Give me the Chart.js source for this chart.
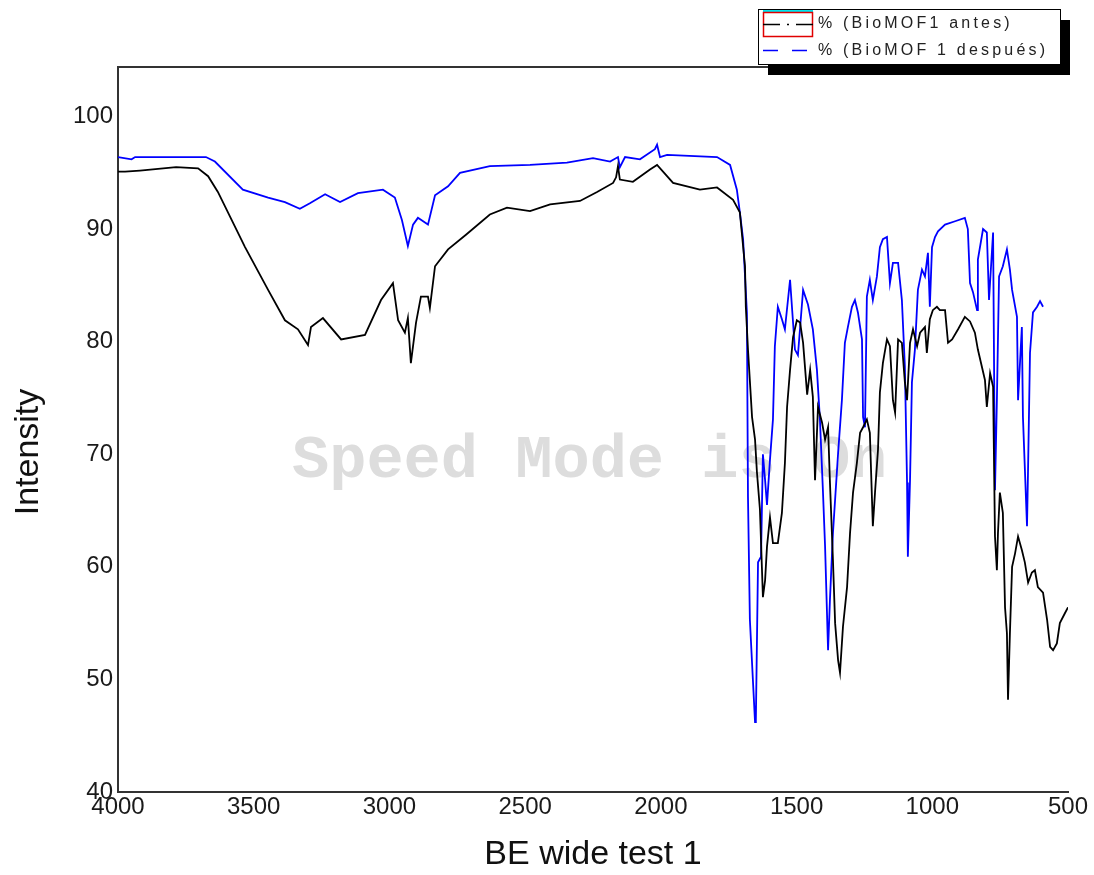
<!DOCTYPE html>
<html>
<head>
<meta charset="utf-8">
<script src="https://cdn.jsdelivr.net/npm/chart.js@4.4.1/dist/chart.umd.min.js"></script>
<style>
  html, body { margin: 0; padding: 0; background: #fff; }
  #wrap { width: 1094px; height: 875px; }
</style>
</head>
<body>
<div id="wrap"><canvas id="spec" width="1094" height="875"></canvas></div>
<script>
// IR transmittance, BioMOF 1 before and after (wavenumber in cm-1, %)
const beforeLabel = '% (BioMOF1 antes)';
const afterLabel = '% (BioMOF 1 después)';

const beforeWn = [4000, 3974, 3919, 3786, 3705, 3668, 3632, 3532, 3447, 3385, 3337, 3300, 3289, 3245, 3178, 3090,
  3031, 2987, 2968, 2943, 2932, 2921, 2902, 2884, 2858, 2851, 2832, 2784, 2718, 2630, 2567, 2482, 2408, 2298,
  2235, 2176, 2165, 2158, 2151, 2103, 2040, 2014, 1992, 1955, 1856, 1793, 1734, 1709, 1690, 1687, 1679, 1664,
  1653, 1646, 1635, 1624, 1616, 1609, 1598, 1587, 1569, 1554, 1543, 1535, 1524, 1513, 1499, 1487, 1476, 1461,
  1450, 1440, 1432, 1421, 1406, 1395, 1384, 1377, 1366, 1358, 1347, 1340, 1329, 1314, 1303, 1292, 1278, 1266,
  1255, 1241, 1230, 1219, 1211, 1200, 1193, 1182, 1167, 1156, 1145, 1137, 1126, 1112, 1101, 1093, 1082, 1071,
  1056, 1045, 1027, 1020, 1009, 998, 983, 972, 953, 942, 927, 905, 880, 861, 843, 832, 806, 799, 787, 776,
  769, 762, 758, 751, 740, 732, 725, 721, 714, 706, 695, 684, 670, 659, 647, 633, 622, 611, 592, 577, 566,
  555, 541, 530, 511, 500];
const beforePct = [95.1, 95.1, 95.2, 95.5, 95.4, 94.7, 93.3, 88.4, 84.6, 81.9, 81.1, 79.7, 81.3, 82.1, 80.2, 80.6,
  83.7, 85.2, 81.9, 80.8, 82.1, 78.1, 81.7, 84.0, 84.0, 83.0, 86.7, 88.2, 89.5, 91.3, 91.9, 91.6, 92.2, 92.5,
  93.3, 94.1, 94.6, 95.6, 94.4, 94.2, 95.3, 95.7, 95.1, 94.1, 93.5, 93.7, 92.6, 91.5, 86.7, 83.1, 79.3, 73.3,
  71.3, 68.4, 65.1, 57.3, 58.8, 61.8, 64.4, 62.1, 62.1, 64.8, 69.2, 74.2, 77.5, 80.4, 81.9, 81.7, 79.9, 75.3,
  77.5, 75.1, 67.7, 74.2, 72.8, 71.3, 72.4, 67.5, 60.6, 55.0, 51.7, 50.6, 54.7, 58.2, 63.0, 66.6, 69.2, 71.9,
  72.4, 73.1, 71.9, 63.6, 66.6, 70.4, 75.5, 78.1, 80.2, 79.6, 74.8, 73.7, 80.2, 79.9, 76.4, 74.8, 79.9, 81.1,
  79.6, 80.8, 81.3, 79.0, 82.0, 82.8, 83.1, 82.8, 82.8, 79.9, 80.2, 81.1, 82.2, 81.8, 80.8, 79.3, 76.6, 74.2,
  77.2, 76.0, 62.7, 59.7, 63.0, 66.6, 64.8, 56.4, 54.1, 48.2, 54.1, 60.0, 61.2, 62.7, 61.5, 60.4, 58.6, 59.5,
  59.7, 58.2, 57.7, 55.3, 52.9, 52.6, 53.2, 55.0, 55.9, 56.4];

const afterWn = [4000, 3950, 3937, 3676, 3643, 3540, 3447, 3385, 3330, 3293, 3237, 3182, 3116, 3024, 2980, 2954,
  2932, 2913, 2895, 2858, 2832, 2784, 2740, 2630, 2482, 2346, 2250, 2187, 2158, 2151, 2132, 2077, 2022, 2014,
  2003, 1977, 1793, 1745, 1720, 1709, 1697, 1683, 1679, 1672, 1661, 1653, 1650, 1642, 1631, 1624, 1616, 1609,
  1598, 1587, 1580, 1569, 1554, 1543, 1524, 1506, 1495, 1476, 1458, 1440, 1425, 1414, 1403, 1395, 1384, 1377,
  1366, 1347, 1333, 1322, 1311, 1296, 1285, 1274, 1259, 1255, 1248, 1241, 1230, 1219, 1204, 1193, 1182, 1167,
  1156, 1145, 1126, 1112, 1101, 1093, 1090, 1082, 1075, 1064, 1053, 1038, 1027, 1016, 1009, 1001, 990, 979,
  953, 916, 880, 869, 861, 850, 835, 832, 813, 799, 791, 776, 769, 762, 754, 740, 725, 714, 706, 688, 684,
  670, 666, 651, 647, 640, 629, 614, 603, 592];
const afterPct = [96.4, 96.2, 96.4, 96.4, 96.0, 93.5, 92.8, 92.4, 91.8, 92.3, 93.1, 92.4, 93.2, 93.5, 92.8, 90.8,
  88.5, 90.4, 91.0, 90.4, 93.0, 93.8, 95.0, 95.6, 95.7, 95.9, 96.3, 96.0, 96.4, 95.5, 96.4, 96.2, 97.1, 97.5,
  96.4, 96.6, 96.4, 95.7, 93.5, 91.5, 89.1, 82.6, 66.2, 55.3, 50.0, 46.2, 46.4, 60.4, 60.9, 70.0, 67.7, 65.5,
  69.5, 73.1, 79.6, 83.1, 82.0, 81.1, 85.5, 79.3, 78.8, 84.6, 83.3, 81.1, 77.5, 73.1, 66.8, 61.8, 52.6, 57.1,
  63.0, 70.1, 74.8, 79.9, 81.3, 83.1, 83.7, 82.6, 80.2, 73.3, 72.4, 84.0, 85.5, 83.7, 85.8, 88.4, 89.1, 89.3,
  85.2, 87.0, 87.0, 83.7, 77.8, 67.5, 60.9, 67.7, 76.4, 79.3, 84.6, 86.4, 85.8, 87.9, 83.1, 88.4, 89.3, 89.8,
  90.4, 90.7, 91.0, 90.0, 85.2, 84.4, 82.8, 87.3, 90.0, 89.7, 83.7, 89.7, 66.8, 74.8, 85.8, 86.7, 88.2, 86.4,
  84.6, 82.2, 74.8, 81.3, 73.3, 63.6, 68.9, 79.0, 82.6, 83.1, 83.6, 83.1];

const xTicks = [4000, 3500, 3000, 2500, 2000, 1500, 1000, 500];
const yTicks = [40, 50, 60, 70, 80, 90, 100];
const xTitle = 'BE wide test 1';
const yTitle = 'Intensity';
const watermark = 'Speed Mode is On';

const toPoints = (xs, ys) => xs.map((x, i) => ({ x, y: ys[i] }));

// watermark behind the traces
const watermarkPlugin = {
  id: 'watermark',
  beforeDatasetsDraw(chart) {
    const ctx = chart.ctx;
    ctx.save();
    ctx.font = 'bold 62px "Liberation Mono", "DejaVu Sans Mono", monospace';
    ctx.fillStyle = '#dddddd';
    ctx.textBaseline = 'alphabetic';
    ctx.fillText(watermark, 292, 477);
    ctx.restore();
  }
};

// top frame line, axis titles and the boxed legend with drop shadow
const framePlugin = {
  id: 'frame',
  afterDraw(chart) {
    const ctx = chart.ctx;
    const a = chart.chartArea;
    ctx.save();
    ctx.strokeStyle = '#333';
    ctx.lineWidth = 2;
    ctx.beginPath();
    ctx.moveTo(a.left, a.top);
    ctx.lineTo(a.right, a.top);
    ctx.stroke();

    ctx.fillStyle = '#111';
    ctx.font = '34px "Liberation Sans", Arial, sans-serif';
    ctx.textAlign = 'center';
    ctx.textBaseline = 'middle';
    ctx.fillText(xTitle, (a.left + a.right) / 2, 855);
    ctx.translate(29, 452);
    ctx.rotate(-Math.PI / 2);
    ctx.fillText(yTitle, 0, 0);
    ctx.restore();

    // legend
    const bx = 758, by = 9, bw = 302, bh = 55;
    ctx.save();
    ctx.fillStyle = '#000';
    ctx.fillRect(bx + 10, by + 11, bw, bh);
    ctx.fillStyle = '#fff';
    ctx.fillRect(bx, by, bw, bh);
    ctx.strokeStyle = '#000';
    ctx.lineWidth = 1;
    ctx.strokeRect(bx + 0.5, by + 0.5, bw, bh);

    ctx.strokeStyle = '#00e5ee';
    ctx.lineWidth = 2;
    ctx.beginPath(); ctx.moveTo(763, 11); ctx.lineTo(813, 11); ctx.stroke();
    ctx.strokeStyle = '#e00000';
    ctx.lineWidth = 1.5;
    ctx.strokeRect(763.5, 12.5, 49, 24);

    ctx.strokeStyle = '#000';
    ctx.lineWidth = 1.5;
    ctx.setLineDash([17, 7, 2, 7]);
    ctx.beginPath(); ctx.moveTo(763, 24.5); ctx.lineTo(813, 24.5); ctx.stroke();
    ctx.strokeStyle = '#0000ff';
    ctx.setLineDash([15, 14]);
    ctx.beginPath(); ctx.moveTo(763, 50.5); ctx.lineTo(810, 50.5); ctx.stroke();
    ctx.setLineDash([]);

    ctx.fillStyle = '#222';
    ctx.font = '16px "Liberation Sans", Arial, sans-serif';
    ctx.letterSpacing = '3.2px';
    ctx.textBaseline = 'middle';
    ctx.fillText(beforeLabel, 818, 24);
    ctx.fillText(afterLabel, 818, 51);
    ctx.restore();
  }
};

new Chart(document.getElementById('spec'), {
  type: 'line',
  data: {
    datasets: [
      {
        label: beforeLabel,
        data: toPoints(beforeWn, beforePct),
        borderColor: '#000',
        borderWidth: 1.8,
        pointRadius: 0,
        tension: 0,
        fill: false
      },
      {
        label: afterLabel,
        data: toPoints(afterWn, afterPct),
        borderColor: '#0000ff',
        borderWidth: 1.8,
        pointRadius: 0,
        tension: 0,
        fill: false
      }
    ]
  },
  options: {
    responsive: false,
    animation: false,
    layout: { padding: { top: 67, right: 26, left: 0, bottom: 0 } },
    plugins: {
      legend: { display: false },
      tooltip: { enabled: false }
    },
    scales: {
      x: {
        type: 'linear',
        reverse: true,
        min: 500,
        max: 4000,
        afterBuildTicks: s => { s.ticks = xTicks.map(v => ({ value: v })); },
        afterFit: s => { s.height = 83; },
        grid: { display: false, drawTicks: false },
        border: { display: true, color: '#333', width: 2 },
        ticks: {
          color: '#1a1a1a',
          padding: 1,
          maxRotation: 0,
          autoSkip: false,
          callback: v => String(v),
          font: { size: 24, family: '"Liberation Sans", Arial, sans-serif' }
        }
      },
      y: {
        type: 'linear',
        min: 40,
        max: 104.4,
        afterBuildTicks: s => { s.ticks = yTicks.map(v => ({ value: v })); },
        afterFit: s => { s.width = 118; },
        grid: { display: false, drawTicks: false },
        border: { display: true, color: '#333', width: 2 },
        ticks: {
          color: '#1a1a1a',
          padding: 5,
          callback: v => String(v),
          font: { size: 24, family: '"Liberation Sans", Arial, sans-serif' }
        }
      }
    }
  },
  plugins: [watermarkPlugin, framePlugin]
});
</script>
</body>
</html>
